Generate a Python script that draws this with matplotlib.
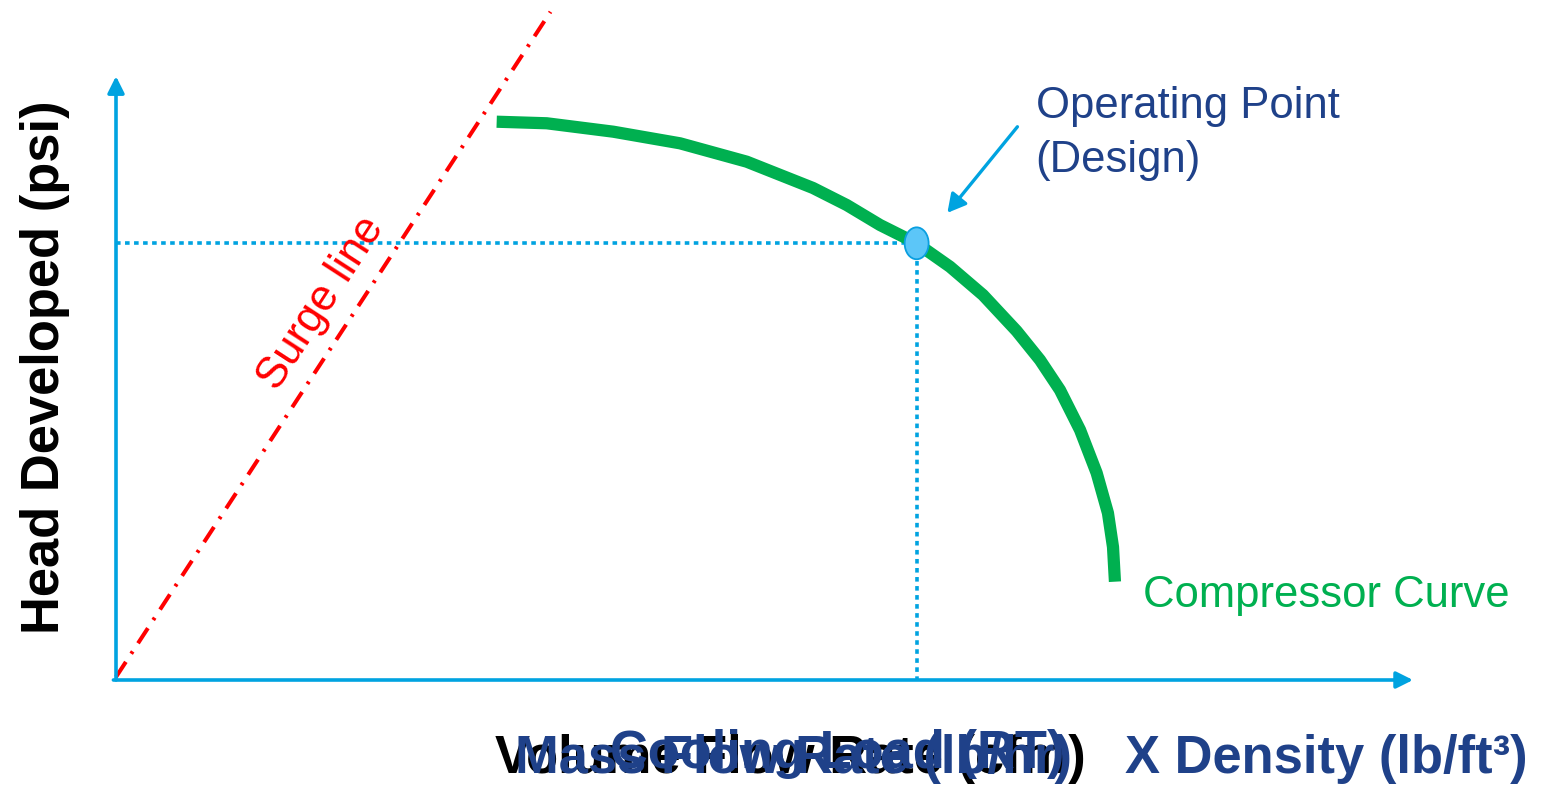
import numpy as np
import matplotlib.pyplot as plt
from matplotlib.patches import Ellipse

plt.rcParams['font.family'] = ['Liberation Sans', 'DejaVu Sans']
plt.rcParams['lines.scale_dashes'] = False

# colours
c_axis  = '#00a3e0'
c_green = '#00b050'
c_red   = '#ff0000'
c_navy  = '#1f4189'

# compressor curve (flow, head) in % of axis span
curve_flow = [29.35, 33.21, 38.34, 43.49, 48.63, 53.74, 56.34, 58.91, 61.73,
              64.30, 66.85, 69.44, 71.24, 72.78, 74.33, 75.61, 76.48, 76.87, 77.02]
curve_head = [92.74, 92.48, 91.08, 89.15, 86.10, 81.73, 78.90, 75.58, 72.54,
              68.65, 63.95, 57.97, 53.16, 48.17, 41.53, 34.39, 27.74, 22.09, 16.33]

# surge line end points
surge_flow = [0.0, 33.5]
surge_head = [0.5, 111.0]

# design operating point
op_flow = 61.73
op_head = 72.54

# pointer for the operating point label
ptr_start = (69.5, 91.9)
ptr_end   = (64.1, 77.6)

fig = plt.figure(figsize=(15.43, 7.88), dpi=100)
# x 0..100 -> px 116..1413, y 0..100 -> px 680..78
ax = fig.add_axes([116/1543, 108/788, 1297/1543, 602/788])
ax.set_xlim(0, 100)
ax.set_ylim(0, 100)
ax.axis('off')

# axes with arrow heads
arr = dict(arrowstyle='-|>,head_length=0.5,head_width=0.25', lw=2.6,
           color=c_axis, mutation_scale=20, shrinkA=0, shrinkB=0)
ax.annotate('', xy=(100, 0), xytext=(-0.2, 0), arrowprops=arr, annotation_clip=False)
ax.annotate('', xy=(0, 100.3), xytext=(0, 0), arrowprops=arr, annotation_clip=False)

# guide lines to the operating point
ax.plot([0, op_flow], [op_head, op_head], color=c_axis, lw=2.6,
        linestyle=(0, (3.3, 3.2)), dash_capstyle='butt', clip_on=False)
ax.plot([op_flow, op_flow], [op_head, 0], color=c_axis, lw=2.6,
        linestyle=(0, (3.3, 3.2)), dash_capstyle='butt', clip_on=False)

# surge line
ax.plot(surge_flow, surge_head, color=c_red, lw=2.9,
        linestyle=(0, (13, 7, 2, 7)), clip_on=False)

# compressor curve
ax.plot(curve_flow, curve_head, color=c_green, lw=8.8, solid_capstyle='butt',
        solid_joinstyle='round', clip_on=False)

# operating point marker
ax.add_patch(Ellipse((op_flow, op_head), 1.85, 5.3, facecolor='#5cc6f8',
                     edgecolor='#0a9fe0', lw=1.3, clip_on=False, zorder=5))

ax.annotate('', xy=ptr_end, xytext=ptr_start,
            arrowprops=dict(arrowstyle='-|>,head_length=0.55,head_width=0.3', lw=2.4,
                            color=c_axis, mutation_scale=20, shrinkA=0, shrinkB=0),
            annotation_clip=False)

# labels
ax.text(70.9, 98.6, 'Operating Point\n(Design)', color=c_navy, fontsize=31.4,
        ha='left', va='top', linespacing=1.38)
ax.text(79.2, 12.1, 'Compressor Curve', color=c_green, fontsize=31.4,
        ha='left', va='baseline')
ax.text(15.8, 62.6, 'Surge line', color=c_red, fontsize=31.4, rotation=57,
        ha='center', va='center', rotation_mode='anchor')

ax.text(-5.5, 52.0, 'Head Developed (psi)', color='black', fontsize=37.8,
        fontweight='bold', rotation=90, ha='center', va='center')

ax.text(52.0, -15.5, 'Volume Flow Rate (cfm)', color='black', fontsize=37.8,
        fontweight='bold', ha='center', va='baseline')
ax.text(52.2, -15.5, 'Mass Flow Rate (lb/hr)', color=c_navy, fontsize=37.8,
        fontweight='bold', ha='center', va='baseline')
ax.text(55.6, -14.6, 'Cooling Load (RT)', color=c_navy, fontsize=37.8,
        fontweight='bold', ha='center', va='baseline')
ax.text(77.8, -15.5, 'X Density (lb/ft³)', color=c_navy, fontsize=37.8,
        fontweight='bold', ha='left', va='baseline')

fig.savefig('out.png', dpi=100, facecolor='white')
